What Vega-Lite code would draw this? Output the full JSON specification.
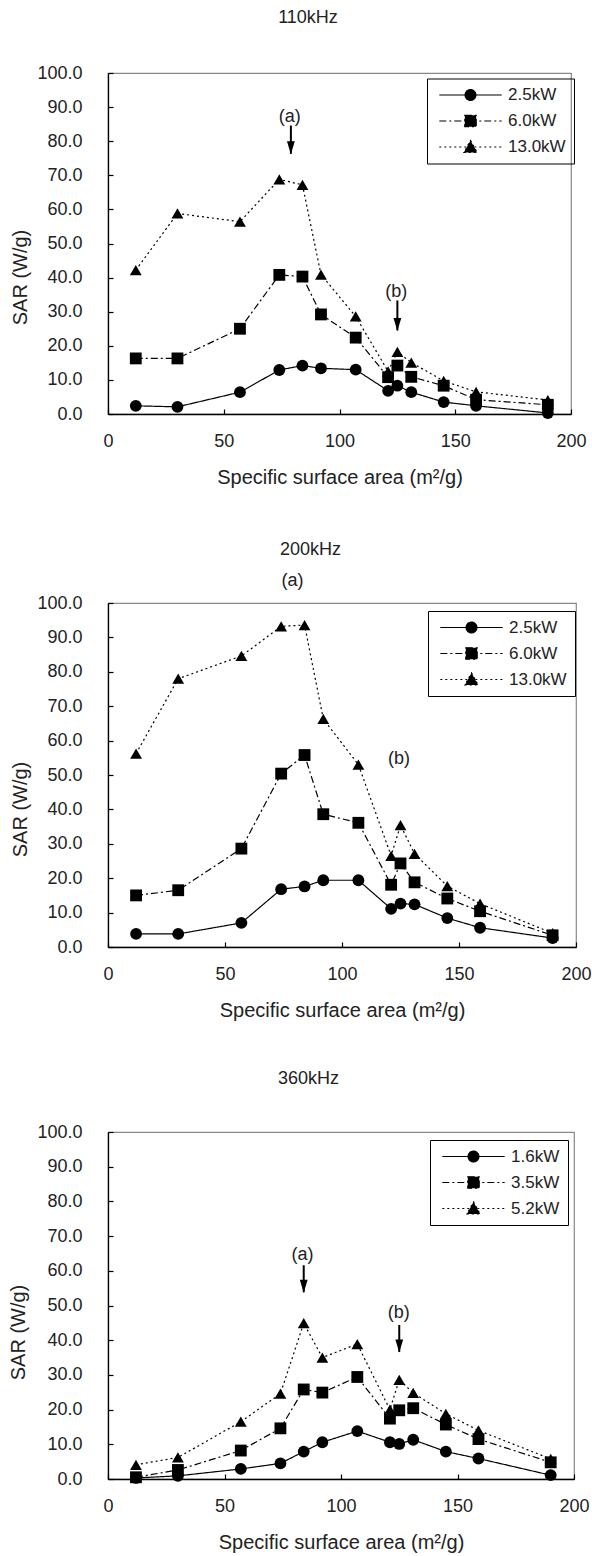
{
  "$schema": "https://vega.github.io/schema/vega-lite/v6.json",
  "padding": {"left": 7, "top": 8, "right": 5, "bottom": 5},
  "background": "white",
  "spacing": 52,
  "resolve": {"scale": {"strokeDash": "independent", "shape": "independent"}, "legend": {"strokeDash": "independent", "shape": "independent"}},
  "config": {
    "font": "Liberation Sans",
    "view": {"stroke": "#888", "strokeWidth": 1.2},
    "axis": {
      "grid": false,
      "domainColor": "#000",
      "domainWidth": 1.3,
      "tickColor": "#000",
      "tickSize": -5,
      "tickWidth": 1.2,
      "labelColor": "#222",
      "titleColor": "#222",
      "labelFontSize": 18,
      "titleFontSize": 20,
      "titleFontWeight": "normal",
      "labelFlush": false
    },
    "axisX": {"labelPadding": 23, "titlePadding": 17},
    "axisY": {"labelPadding": 31},
    "legend": {
      "orient": "none",
      "legendX": 319,
      "legendY": 5.5,
      "strokeColor": "#000",
      "padding": 8,
      "labelFontSize": 17,
      "labelColor": "#222",
      "rowPadding": 8,
      "symbolSize": 144,
      "symbolStrokeColor": "#000",
      "symbolFillColor": "#000",
      "symbolStrokeWidth": 1.2,
      "symbolOffset": 27,
      "labelOffset": 29
    },
    "title": {"fontSize": 18, "fontWeight": "normal", "color": "#222", "frame": "bounds", "dx": 10},
    "text": {"font": "Liberation Sans", "fontSize": 18, "color": "#222"}
  },
  "datasets": {
    "p110": [
      {"ssa": 12, "sar": 2.4, "power": "2.5kW"}, {"ssa": 30, "sar": 2.1, "power": "2.5kW"}, {"ssa": 57, "sar": 6.4, "power": "2.5kW"}, {"ssa": 74, "sar": 12.9, "power": "2.5kW"}, {"ssa": 84, "sar": 14.2, "power": "2.5kW"}, {"ssa": 92, "sar": 13.4, "power": "2.5kW"}, {"ssa": 107, "sar": 13.0, "power": "2.5kW"}, {"ssa": 121, "sar": 6.8, "power": "2.5kW"}, {"ssa": 125, "sar": 8.3, "power": "2.5kW"}, {"ssa": 131, "sar": 6.4, "power": "2.5kW"}, {"ssa": 145, "sar": 3.5, "power": "2.5kW"}, {"ssa": 159, "sar": 2.4, "power": "2.5kW"}, {"ssa": 190, "sar": 0.3, "power": "2.5kW"},
      {"ssa": 12, "sar": 16.3, "power": "6.0kW"}, {"ssa": 30, "sar": 16.3, "power": "6.0kW"}, {"ssa": 57, "sar": 25.0, "power": "6.0kW"}, {"ssa": 74, "sar": 40.8, "power": "6.0kW"}, {"ssa": 84, "sar": 40.3, "power": "6.0kW"}, {"ssa": 92, "sar": 29.2, "power": "6.0kW"}, {"ssa": 107, "sar": 22.4, "power": "6.0kW"}, {"ssa": 121, "sar": 10.8, "power": "6.0kW"}, {"ssa": 125, "sar": 14.2, "power": "6.0kW"}, {"ssa": 131, "sar": 10.9, "power": "6.0kW"}, {"ssa": 145, "sar": 8.3, "power": "6.0kW"}, {"ssa": 159, "sar": 4.2, "power": "6.0kW"}, {"ssa": 190, "sar": 2.7, "power": "6.0kW"},
      {"ssa": 12, "sar": 42.2, "power": "13.0kW"}, {"ssa": 30, "sar": 58.8, "power": "13.0kW"}, {"ssa": 57, "sar": 56.4, "power": "13.0kW"}, {"ssa": 74, "sar": 68.8, "power": "13.0kW"}, {"ssa": 84, "sar": 67.2, "power": "13.0kW"}, {"ssa": 92, "sar": 40.9, "power": "13.0kW"}, {"ssa": 107, "sar": 28.6, "power": "13.0kW"}, {"ssa": 121, "sar": 12.5, "power": "13.0kW"}, {"ssa": 125, "sar": 18.2, "power": "13.0kW"}, {"ssa": 131, "sar": 15.1, "power": "13.0kW"}, {"ssa": 145, "sar": 9.7, "power": "13.0kW"}, {"ssa": 159, "sar": 6.5, "power": "13.0kW"}, {"ssa": 190, "sar": 4.1, "power": "13.0kW"}
    ],
    "p200": [
      {"ssa": 12, "sar": 3.8, "power": "2.5kW"}, {"ssa": 30, "sar": 3.8, "power": "2.5kW"}, {"ssa": 57, "sar": 7.0, "power": "2.5kW"}, {"ssa": 74, "sar": 16.8, "power": "2.5kW"}, {"ssa": 84, "sar": 17.6, "power": "2.5kW"}, {"ssa": 92, "sar": 19.4, "power": "2.5kW"}, {"ssa": 107, "sar": 19.4, "power": "2.5kW"}, {"ssa": 121, "sar": 11.1, "power": "2.5kW"}, {"ssa": 125, "sar": 12.6, "power": "2.5kW"}, {"ssa": 131, "sar": 12.4, "power": "2.5kW"}, {"ssa": 145, "sar": 8.4, "power": "2.5kW"}, {"ssa": 159, "sar": 5.6, "power": "2.5kW"}, {"ssa": 190, "sar": 2.6, "power": "2.5kW"},
      {"ssa": 12, "sar": 15.0, "power": "6.0kW"}, {"ssa": 30, "sar": 16.5, "power": "6.0kW"}, {"ssa": 57, "sar": 28.6, "power": "6.0kW"}, {"ssa": 74, "sar": 50.4, "power": "6.0kW"}, {"ssa": 84, "sar": 55.8, "power": "6.0kW"}, {"ssa": 92, "sar": 38.6, "power": "6.0kW"}, {"ssa": 107, "sar": 36.1, "power": "6.0kW"}, {"ssa": 121, "sar": 18.1, "power": "6.0kW"}, {"ssa": 125, "sar": 24.3, "power": "6.0kW"}, {"ssa": 131, "sar": 18.8, "power": "6.0kW"}, {"ssa": 145, "sar": 14.1, "power": "6.0kW"}, {"ssa": 159, "sar": 10.4, "power": "6.0kW"}, {"ssa": 190, "sar": 3.4, "power": "6.0kW"},
      {"ssa": 12, "sar": 56.2, "power": "13.0kW"}, {"ssa": 30, "sar": 78.0, "power": "13.0kW"}, {"ssa": 57, "sar": 84.6, "power": "13.0kW"}, {"ssa": 74, "sar": 93.2, "power": "13.0kW"}, {"ssa": 84, "sar": 93.6, "power": "13.0kW"}, {"ssa": 92, "sar": 66.3, "power": "13.0kW"}, {"ssa": 107, "sar": 53.0, "power": "13.0kW"}, {"ssa": 121, "sar": 26.5, "power": "13.0kW"}, {"ssa": 125, "sar": 35.4, "power": "13.0kW"}, {"ssa": 131, "sar": 27.1, "power": "13.0kW"}, {"ssa": 145, "sar": 17.7, "power": "13.0kW"}, {"ssa": 159, "sar": 12.6, "power": "13.0kW"}, {"ssa": 190, "sar": 4.0, "power": "13.0kW"}
    ],
    "p360": [
      {"ssa": 12, "sar": 0.3, "power": "1.6kW"}, {"ssa": 30, "sar": 0.9, "power": "1.6kW"}, {"ssa": 57, "sar": 2.9, "power": "1.6kW"}, {"ssa": 74, "sar": 4.5, "power": "1.6kW"}, {"ssa": 84, "sar": 7.9, "power": "1.6kW"}, {"ssa": 92, "sar": 10.6, "power": "1.6kW"}, {"ssa": 107, "sar": 13.8, "power": "1.6kW"}, {"ssa": 121, "sar": 10.6, "power": "1.6kW"}, {"ssa": 125, "sar": 10.1, "power": "1.6kW"}, {"ssa": 131, "sar": 11.3, "power": "1.6kW"}, {"ssa": 145, "sar": 7.9, "power": "1.6kW"}, {"ssa": 159, "sar": 5.9, "power": "1.6kW"}, {"ssa": 190, "sar": 1.1, "power": "1.6kW"},
      {"ssa": 12, "sar": 0.5, "power": "3.5kW"}, {"ssa": 30, "sar": 2.6, "power": "3.5kW"}, {"ssa": 57, "sar": 8.2, "power": "3.5kW"}, {"ssa": 74, "sar": 14.6, "power": "3.5kW"}, {"ssa": 84, "sar": 25.8, "power": "3.5kW"}, {"ssa": 92, "sar": 24.9, "power": "3.5kW"}, {"ssa": 107, "sar": 29.4, "power": "3.5kW"}, {"ssa": 121, "sar": 17.4, "power": "3.5kW"}, {"ssa": 125, "sar": 19.8, "power": "3.5kW"}, {"ssa": 131, "sar": 20.4, "power": "3.5kW"}, {"ssa": 145, "sar": 15.7, "power": "3.5kW"}, {"ssa": 159, "sar": 11.5, "power": "3.5kW"}, {"ssa": 190, "sar": 4.8, "power": "3.5kW"},
      {"ssa": 12, "sar": 4.1, "power": "5.2kW"}, {"ssa": 30, "sar": 6.2, "power": "5.2kW"}, {"ssa": 57, "sar": 16.5, "power": "5.2kW"}, {"ssa": 74, "sar": 24.6, "power": "5.2kW"}, {"ssa": 84, "sar": 44.9, "power": "5.2kW"}, {"ssa": 92, "sar": 35.0, "power": "5.2kW"}, {"ssa": 107, "sar": 38.9, "power": "5.2kW"}, {"ssa": 121, "sar": 20.0, "power": "5.2kW"}, {"ssa": 125, "sar": 28.6, "power": "5.2kW"}, {"ssa": 131, "sar": 24.8, "power": "5.2kW"}, {"ssa": 145, "sar": 18.8, "power": "5.2kW"}, {"ssa": 159, "sar": 14.0, "power": "5.2kW"}, {"ssa": 190, "sar": 5.8, "power": "5.2kW"}
    ],
    "t110": [{"ssa": 78.5, "sar": 87, "label": "(a)"}, {"ssa": 124.5, "sar": 35.7, "label": "(b)"}],
    "r110": [{"ssa": 79, "sar": 84.6, "sar2": 76.3}, {"ssa": 125, "sar": 33.3, "sar2": 24.5}],
    "t200": [{"ssa": 78.8, "sar": 106.3, "label": "(a)"}, {"ssa": 124.4, "sar": 54.7, "label": "(b)"}],
    "t360": [{"ssa": 83.5, "sar": 64.6, "label": "(a)"}, {"ssa": 124.8, "sar": 47.9, "label": "(b)"}],
    "r360": [{"ssa": 84, "sar": 61.6, "sar2": 53.8}, {"ssa": 125, "sar": 44.4, "sar2": 36.6}]
  },
  "vconcat": [
    {
      "width": 463, "height": 341,
      "title": {"text": "110kHz", "offset": 37},
      "encoding": {
        "x": {"field": "ssa", "type": "quantitative", "scale": {"domain": [0, 200], "nice": false}, "axis": {"values": [0, 50, 100, 150, 200], "title": "Specific surface area (m²/g)"}},
        "y": {"field": "sar", "type": "quantitative", "scale": {"domain": [0, 100], "nice": false}, "axis": {"values": [0, 10, 20, 30, 40, 50, 60, 70, 80, 90, 100], "format": ".1f", "title": "SAR (W/g)", "titleX": -88, "titleY": 204, "titleBaseline": "middle"}}
      },
      "layer": [
        {"data": {"name": "p110"}, "mark": {"type": "line", "color": "#000", "strokeWidth": 1.2},
         "encoding": {"strokeDash": {"field": "power", "type": "nominal", "title": null, "scale": {"domain": ["2.5kW", "6.0kW", "13.0kW"], "range": [[1, 0], [7, 3, 2, 3], [2, 3]]},
           "legend": {"encode": {"symbols": {"update": {"shape": {"signal": "['M-5.2,0H5.2M0.9,0A0.9,0.9,0,1,1,-0.9,0A0.9,0.9,0,1,1,0.9,0Z','M-5.2,0H5.2M-0.95,-0.95H0.95V0.95H-0.95Z','M-5.2,0H5.2M0,-1.1L1.1,0.9H-1.1Z'][datum.index]"}, "fill": {"value": "#000"}, "stroke": {"value": "#000"}}}}}}}},
        {"data": {"name": "p110"}, "mark": {"type": "point", "filled": true, "color": "#000", "opacity": 1, "size": 140},
         "encoding": {"shape": {"field": "power", "type": "nominal", "scale": {"domain": ["13.0kW", "6.0kW", "2.5kW"], "range": ["triangle-up", "square", "circle"]}, "legend": null}}},
        {"data": {"name": "t110"}, "mark": {"type": "text"}, "encoding": {"text": {"field": "label"}}},
        {"data": {"name": "r110"}, "mark": {"type": "rule", "color": "#000", "strokeWidth": 2}, "encoding": {"y2": {"field": "sar2"}}},
        {"data": {"name": "r110"}, "mark": {"type": "point", "filled": true, "color": "#000", "opacity": 1, "size": 169, "shape": "M-0.6,-1L0.6,-1L0,1Z", "yOffset": -6}, "encoding": {"y": {"field": "sar2", "type": "quantitative"}}}
      ]
    },
    {
      "spacing": 48,
      "resolve": {"scale": {"strokeDash": "independent", "shape": "independent"}, "legend": {"strokeDash": "independent", "shape": "independent"}},
      "vconcat": [
        {
          "width": 468, "height": 344,
          "title": {"text": "200kHz", "offset": 13},
          "encoding": {
            "x": {"field": "ssa", "type": "quantitative", "scale": {"domain": [0, 200], "nice": false}, "axis": {"values": [0, 50, 100, 150, 200], "title": "Specific surface area (m²/g)"}},
            "y": {"field": "sar", "type": "quantitative", "scale": {"domain": [0, 100], "nice": false}, "axis": {"values": [0, 10, 20, 30, 40, 50, 60, 70, 80, 90, 100], "format": ".1f", "title": "SAR (W/g)", "titleX": -88, "titleY": 206, "titleBaseline": "middle"}}
          },
          "layer": [
            {"data": {"name": "p200"}, "mark": {"type": "line", "color": "#000", "strokeWidth": 1.2},
             "encoding": {"strokeDash": {"field": "power", "type": "nominal", "title": null, "scale": {"domain": ["2.5kW", "6.0kW", "13.0kW"], "range": [[1, 0], [7, 3, 2, 3], [2, 3]]},
               "legend": {"legendX": 320, "legendY": 8, "encode": {"symbols": {"update": {"shape": {"signal": "['M-5.2,0H5.2M0.9,0A0.9,0.9,0,1,1,-0.9,0A0.9,0.9,0,1,1,0.9,0Z','M-5.2,0H5.2M-0.95,-0.95H0.95V0.95H-0.95Z','M-5.2,0H5.2M0,-1.1L1.1,0.9H-1.1Z'][datum.index]"}, "fill": {"value": "#000"}, "stroke": {"value": "#000"}}}}}}}},
            {"data": {"name": "p200"}, "mark": {"type": "point", "filled": true, "color": "#000", "opacity": 1, "size": 140},
             "encoding": {"shape": {"field": "power", "type": "nominal", "scale": {"domain": ["13.0kW", "6.0kW", "2.5kW"], "range": ["triangle-up", "square", "circle"]}, "legend": null}}},
            {"data": {"name": "t200"}, "mark": {"type": "text"}, "encoding": {"text": {"field": "label"}}}
          ]
        },
        {
          "width": 466, "height": 347,
          "title": {"text": "360kHz", "offset": 35},
          "encoding": {
            "x": {"field": "ssa", "type": "quantitative", "scale": {"domain": [0, 200], "nice": false}, "axis": {"values": [0, 50, 100, 150, 200], "title": "Specific surface area (m²/g)"}},
            "y": {"field": "sar", "type": "quantitative", "scale": {"domain": [0, 100], "nice": false}, "axis": {"values": [0, 10, 20, 30, 40, 50, 60, 70, 80, 90, 100], "format": ".1f", "title": "SAR (W/g)", "titleX": -90, "titleY": 200, "titleBaseline": "middle"}}
          },
          "layer": [
            {"data": {"name": "p360"}, "mark": {"type": "line", "color": "#000", "strokeWidth": 1.2},
             "encoding": {"strokeDash": {"field": "power", "type": "nominal", "title": null, "scale": {"domain": ["1.6kW", "3.5kW", "5.2kW"], "range": [[1, 0], [7, 3, 2, 3], [2, 3]]},
               "legend": {"legendX": 322, "legendY": 8, "encode": {"symbols": {"update": {"shape": {"signal": "['M-5.2,0H5.2M0.9,0A0.9,0.9,0,1,1,-0.9,0A0.9,0.9,0,1,1,0.9,0Z','M-5.2,0H5.2M-0.95,-0.95H0.95V0.95H-0.95Z','M-5.2,0H5.2M0,-1.1L1.1,0.9H-1.1Z'][datum.index]"}, "fill": {"value": "#000"}, "stroke": {"value": "#000"}}}}}}}},
            {"data": {"name": "p360"}, "mark": {"type": "point", "filled": true, "color": "#000", "opacity": 1, "size": 140},
             "encoding": {"shape": {"field": "power", "type": "nominal", "scale": {"domain": ["5.2kW", "3.5kW", "1.6kW"], "range": ["triangle-up", "square", "circle"]}, "legend": null}}},
            {"data": {"name": "t360"}, "mark": {"type": "text"}, "encoding": {"text": {"field": "label"}}},
            {"data": {"name": "r360"}, "mark": {"type": "rule", "color": "#000", "strokeWidth": 2}, "encoding": {"y2": {"field": "sar2"}}},
            {"data": {"name": "r360"}, "mark": {"type": "point", "filled": true, "color": "#000", "opacity": 1, "size": 169, "shape": "M-0.6,-1L0.6,-1L0,1Z", "yOffset": -6}, "encoding": {"y": {"field": "sar2", "type": "quantitative"}}}
          ]
        }
      ]
    }
  ]
}
